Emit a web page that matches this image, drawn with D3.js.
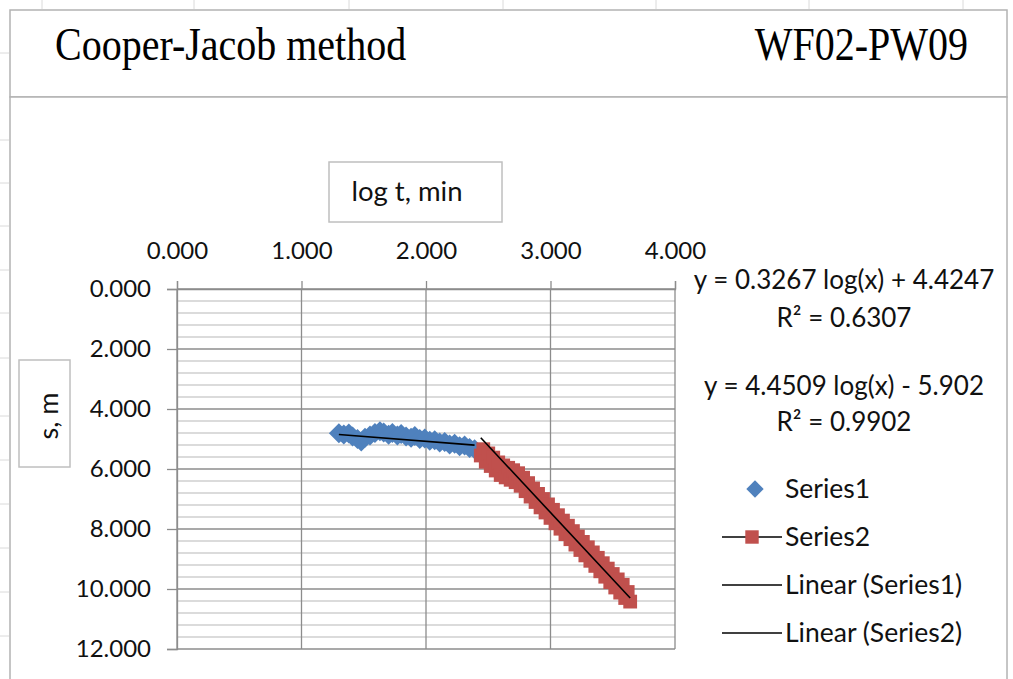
<!DOCTYPE html>
<html>
<head>
<meta charset="utf-8">
<script src="https://cdn.jsdelivr.net/npm/d3@7"></script>
<style>
  html, body { margin: 0; padding: 0; background: #fff; }
  svg { display: block; }
</style>
</head>
<body>
<div id="chart"></div>
<script>
// Cooper-Jacob drawdown plot, s vs log t
const xTicks = [0, 1, 2, 3, 4];
const yTicks = [0, 2, 4, 6, 8, 10, 12];

// Series1 (early time) : log t, s
const s1LogT = [1.30, 1.34, 1.38, 1.41, 1.45, 1.48, 1.51, 1.55, 1.59, 1.63, 1.66, 1.70, 1.73, 1.77, 1.80,
                1.84, 1.88, 1.91, 1.95, 1.99, 2.03, 2.07, 2.11, 2.15, 2.19, 2.23, 2.27, 2.31, 2.35, 2.39];
const s1Draw = [4.81, 4.85, 4.82, 4.92, 5.00, 5.08, 4.96, 4.88, 4.80, 4.74, 4.78, 4.86, 4.80, 4.88, 4.83,
                4.92, 4.96, 4.90, 5.00, 4.98, 5.06, 5.04, 5.12, 5.10, 5.18, 5.16, 5.24, 5.22, 5.30, 5.34];

// Series2 (late time)
const s2LogT = [2.44, 2.46, 2.48, 2.50, 2.52, 2.54, 2.56, 2.58, 2.60, 2.62, 2.64, 2.66, 2.68, 2.70, 2.72,
                2.74, 2.76, 2.78, 2.80, 2.82, 2.84, 2.86, 2.88, 2.90, 2.92, 2.94, 2.96, 2.98, 3.00, 3.02,
                3.04, 3.06, 3.08, 3.10, 3.12, 3.14, 3.16, 3.18, 3.20, 3.22, 3.24, 3.26, 3.28, 3.30, 3.32,
                3.34, 3.36, 3.38, 3.40, 3.42, 3.44, 3.46, 3.48, 3.50, 3.52, 3.54, 3.56, 3.58, 3.60, 3.62, 3.64];
const s2Draw = [5.55, 5.34, 5.76, 5.48, 5.90, 5.62, 6.05, 5.78, 6.20, 5.88, 6.28, 5.96, 6.36, 6.04, 6.44,
                6.14, 6.56, 6.29, 6.74, 6.47, 6.92, 6.65, 7.10, 6.83, 7.28, 7.00, 7.45, 7.18, 7.63, 7.36,
                7.81, 7.54, 7.99, 7.72, 8.17, 7.89, 8.34, 8.07, 8.52, 8.25, 8.70, 8.43, 8.88, 8.61, 9.06,
                8.78, 9.23, 8.96, 9.41, 9.14, 9.59, 9.32, 9.77, 9.50, 9.95, 9.68, 10.12, 9.86, 10.30, 10.10, 10.42];

// trendline coefficients [slope, intercept] and R²
const trend1 = [0.3267, 4.4247];
const trend2 = [4.4509, -5.902];
const eqLabels = ["y = 0.3267 log(x) + 4.4247", "R² = 0.6307", "y = 4.4509 log(x) - 5.902", "R² = 0.9902"];
const legendNames = ["Series1", "Series2", "Linear (Series1)", "Linear (Series2)"];

const W = 1013, H = 679;
const sans = "Lato, 'Open Sans', sans-serif";
const blue = "#4f81bd", red = "#c0504d";

const svg = d3.select("#chart").append("svg")
  .attr("width", W).attr("height", H)
  .attr("viewBox", [0, 0, W, H]);

// faint spreadsheet cell marks behind the chart
const sheet = svg.append("g").attr("stroke", "#dadada").attr("stroke-width", 1);
[42, 194, 349, 503, 656, 809, 963].forEach(x => sheet.append("line").attr("x1", x).attr("x2", x).attr("y1", 0).attr("y2", 9));
[53, 140, 183, 226, 270, 313, 358, 416, 460, 504, 548, 592, 636].forEach(y => sheet.append("line").attr("x1", 0).attr("x2", 9).attr("y1", y).attr("y2", y));

// title box + chart box
svg.append("rect").attr("x", 10).attr("y", 10).attr("width", 997).attr("height", 87)
  .attr("fill", "#fff").attr("stroke", "#b3b3b3").attr("stroke-width", 1.5);
svg.append("rect").attr("x", 10).attr("y", 97).attr("width", 997).attr("height", 600)
  .attr("fill", "#fff").attr("stroke", "#b3b3b3").attr("stroke-width", 1.5);

svg.append("text")
  .attr("transform", "translate(55,60) scale(1,1.16)")
  .attr("font-family", "'Liberation Serif', 'Times New Roman', serif")
  .attr("font-size", 40).attr("fill", "#000")
  .text("Cooper-Jacob method");
svg.append("text")
  .attr("transform", "translate(968,60) scale(1,1.16)")
  .attr("text-anchor", "end")
  .attr("font-family", "'Liberation Serif', 'Times New Roman', serif")
  .attr("font-size", 40).attr("fill", "#000")
  .text("WF02-PW09");

const x = d3.scaleLinear().domain([0, 4]).range([177, 675]);
const y = d3.scaleLinear().domain([0, 12]).range([289, 649]);

// gridlines
const grid = svg.append("g");
grid.selectAll("line.minor")
  .data(d3.range(0, 60).map(i => i * 0.4).filter(v => v <= 12.0001 && Math.abs(v / 2 - Math.round(v / 2)) > 1e-6))
  .join("line").attr("class", "minor")
  .attr("x1", x(0)).attr("x2", x(4))
  .attr("y1", d => y(d)).attr("y2", d => y(d))
  .attr("stroke", "#cfcfcf").attr("stroke-width", 1.5);
grid.selectAll("line.hmaj")
  .data(yTicks)
  .join("line").attr("class", "hmaj")
  .attr("x1", x(0)).attr("x2", x(4))
  .attr("y1", d => y(d)).attr("y2", d => y(d))
  .attr("stroke", "#8c8c8c").attr("stroke-width", 1.3);
grid.selectAll("line.vmaj")
  .data(xTicks)
  .join("line").attr("class", "vmaj")
  .attr("x1", d => x(d)).attr("x2", d => x(d))
  .attr("y1", y(0)).attr("y2", y(12))
  .attr("stroke", "#8c8c8c").attr("stroke-width", 1.3);

// axes
const fmt = d3.format(".3f");
const xAxis = svg.append("g").attr("transform", `translate(0,${y(0)})`)
  .call(d3.axisTop(x).tickValues(xTicks).tickFormat(fmt).tickSize(8).tickPadding(22));
const yAxis = svg.append("g").attr("transform", `translate(${x(0)},0)`)
  .call(d3.axisLeft(y).tickValues(yTicks).tickFormat(fmt).tickSize(10).tickPadding(16));
[xAxis, yAxis].forEach(a => {
  a.select(".domain").attr("stroke", "#8c8c8c").attr("stroke-width", 1.3);
  a.selectAll(".tick line").attr("stroke", "#8c8c8c").attr("stroke-width", 1.3);
  a.selectAll("text").attr("font-family", sans).attr("font-size", 24).attr("fill", "#111");
});

// axis title boxes
svg.append("rect").attr("x", 329).attr("y", 162).attr("width", 173).attr("height", 60)
  .attr("fill", "#fff").attr("stroke", "#bfbfbf").attr("stroke-width", 1.5);
svg.append("text").attr("x", 407).attr("y", 201).attr("text-anchor", "middle")
  .attr("font-family", sans).attr("font-size", 27.5).attr("fill", "#111")
  .text("log t, min");
svg.append("rect").attr("x", 19).attr("y", 360).attr("width", 51).attr("height", 107)
  .attr("fill", "#fff").attr("stroke", "#bfbfbf").attr("stroke-width", 1.5);
svg.append("text").attr("transform", "translate(58,416) rotate(-90)").attr("text-anchor", "middle")
  .attr("font-family", sans).attr("font-size", 27).attr("fill", "#111")
  .text("s, m");

// data markers
const plot = svg.append("g");
const s1 = s1LogT.map((t, i) => ({ t, s: s1Draw[i] }));
const s2 = s2LogT.map((t, i) => ({ t, s: s2Draw[i] }));
const diamond = d3.symbol(d3.symbolSquare, 200);
const square = d3.symbol(d3.symbolSquare, 190);

plot.selectAll("path.s1").data(s1).join("path").attr("class", "s1")
  .attr("d", diamond)
  .attr("transform", d => `translate(${x(d.t)},${y(d.s)}) rotate(45)`)
  .attr("fill", blue);
plot.selectAll("path.s2").data(s2).join("path").attr("class", "s2")
  .attr("d", square)
  .attr("transform", d => `translate(${x(d.t)},${y(d.s)})`)
  .attr("fill", red);

// linear trendlines over each series' range
const trendLine = d3.line().x(d => x(d[0])).y(d => y(d[1]));
[[trend1, s1LogT], [trend2, s2LogT]].forEach(([c, ts]) => {
  const ext = d3.extent(ts);
  plot.append("path")
    .attr("d", trendLine(ext.map(t => [t, c[0] * t + c[1]])))
    .attr("fill", "none").attr("stroke", "#000").attr("stroke-width", 1.6);
});

// trendline equations
const eqY = [289, 327, 395, 431];
eqLabels.forEach((t, i) => {
  svg.append("text").attr("x", 844).attr("y", eqY[i]).attr("text-anchor", "middle")
    .attr("font-family", sans).attr("font-size", 26).attr("fill", "#111")
    .text(t);
});

// legend
const lg = svg.append("g").attr("font-family", sans).attr("font-size", 26.5).attr("fill", "#111");
const legY = [489, 537, 585, 633];
legendNames.forEach((name, i) => {
  const g = lg.append("g").attr("transform", `translate(0,${legY[i]})`);
  if (i === 0) {
    g.append("path").attr("d", d3.symbol(d3.symbolSquare, 150)).attr("transform", "translate(755,0) rotate(45)").attr("fill", blue);
  } else {
    g.append("line").attr("x1", 722).attr("x2", 782).attr("y1", 0).attr("y2", 0)
      .attr("stroke", "#000").attr("stroke-width", 1.6);
    if (i === 1) g.append("path").attr("d", d3.symbol(d3.symbolSquare, 180)).attr("transform", "translate(752,0)").attr("fill", red);
  }
  g.append("text").attr("x", 785).attr("y", 9).text(name);
});
</script>
</body>
</html>
